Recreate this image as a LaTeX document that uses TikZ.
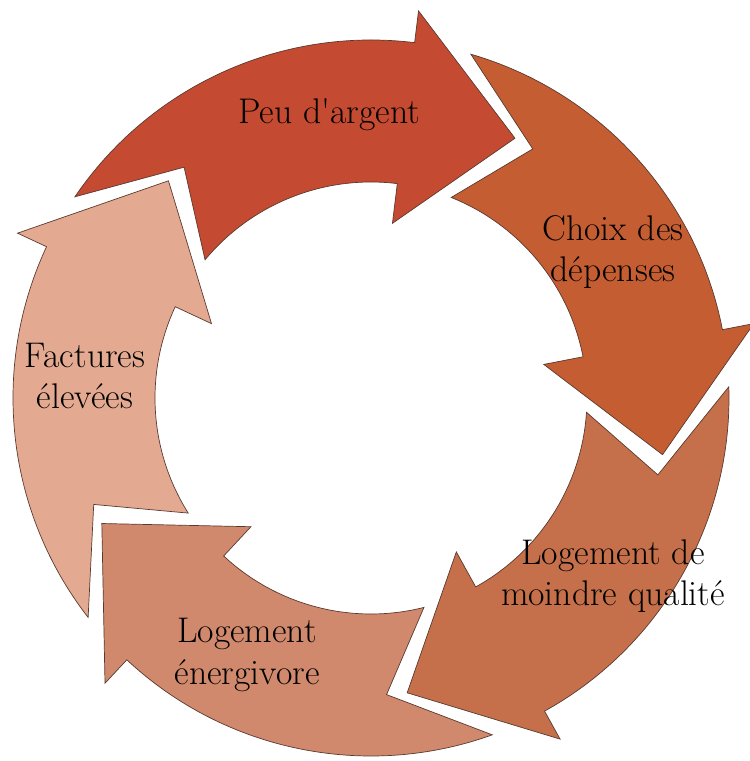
\documentclass[tikz,border=0pt]{standalone}
\usepackage{tikz}
\definecolor{peu}{HTML}{C54A32}
\definecolor{choix}{HTML}{C45D32}
\definecolor{moindre}{HTML}{C5704B}
\definecolor{energ}{HTML}{D0896C}
\definecolor{fact}{HTML}{E4AA91}
\definecolor{edge}{HTML}{5A3A30}

\begin{document}
\begin{tikzpicture}[x=0.02cm,y=0.02cm,
  seg/.style={draw=edge,line width=0.4pt,line join=miter},
  lbl/.style={align=center,font=\fontsize{20.3}{23.6}\selectfont,inner sep=0pt}]
\useasboundingbox (-371,-363) rectangle (379,398);
% curved arrows, clockwise, head at angle B, tip at B-22
\draw[seg,fill=peu] (145.8:358) arc[start angle=145.8,end angle=83,radius=358] -- (83:390) -- (61:297) -- (83:176) -- (83:216) arc[start angle=83,end angle=140.2,radius=216] -- (129:297) -- cycle;
\draw[seg,fill=choix] (73.8:358) arc[start angle=73.8,end angle=11,radius=358] -- (11:390) -- (-11:297) -- (11:176) -- (11:216) arc[start angle=11,end angle=68.2,radius=216] -- (57:297) -- cycle;
\draw[seg,fill=moindre] (1.8:358) arc[start angle=1.8,end angle=-61,radius=358] -- (-61:390) -- (-83:297) -- (-61:176) -- (-61:216) arc[start angle=-61,end angle=-3.8,radius=216] -- (-15:297) -- cycle;
\draw[seg,fill=energ] (-70.2:358) arc[start angle=-70.2,end angle=-133,radius=358] -- (-133:390) -- (-155:297) -- (-133:176) -- (-133:216) arc[start angle=-133,end angle=-75.8,radius=216] -- (-87:297) -- cycle;
\draw[seg,fill=fact] (217.8:358) arc[start angle=217.8,end angle=155,radius=358] -- (155:390) -- (133:297) -- (155:176) -- (155:216) arc[start angle=155,end angle=212.2,radius=216] -- (201:297) -- cycle;
% labels
\node[lbl] (peu) at (-42,283) {Peu d\textquotesingle argent};
\node[lbl] (choix) at (242,146) {Choix des\\dépenses};
\node[lbl] (moindre) at (242,-178) {Logement de\\moindre qualité};
\node[lbl] (energ) at (-124,-257) {Logement\\énergivore};
\node[lbl] (fact) at (-286,22) {Factures\\élevées};
\end{tikzpicture}
\end{document}
